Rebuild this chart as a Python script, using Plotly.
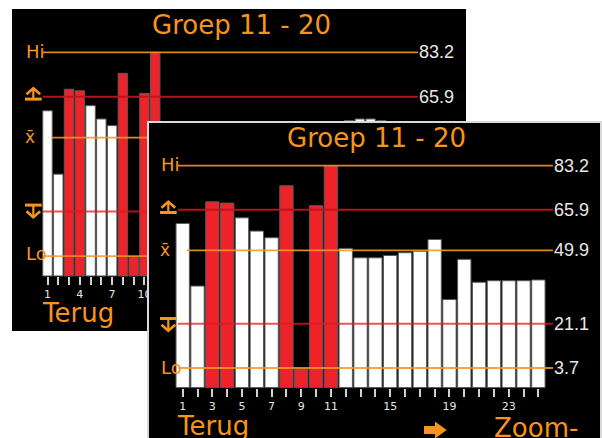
import plotly.graph_objects as go

# ---------------- data ----------------
TITLE = "Groep 11 - 20"
HI, UCL, MEAN, LCL, LO = 83.2, 65.9, 49.9, 21.1, 3.7
limit_texts = ["83.2", "65.9", "49.9", "21.1", "3.7"]
BAR_BASE = -4.0

front_samples = list(range(1, 26))
front_values = [60.5, 35.9, 69.0, 68.5, 62.7, 57.5, 54.9, 75.3, 3.3, 67.5, 83.2,
                50.7, 47.0, 47.0, 47.9, 49.0, 49.6, 54.2, 30.6, 46.4,
                37.4, 38.0, 38.0, 38.0, 38.3]
front_tick_text = ["1", "", "3", "", "5", "", "7", "", "9", "", "11", "", "", "",
                   "15", "", "", "", "19", "", "", "", "23", "", ""]

back_samples = list(range(1, 35))
back_values = [60.4, 35.7, 68.8, 68.2, 62.4, 57.2, 54.6, 75.0, 3.5, 67.2, 83.2,
               50.7, 47.0, 47.0, 47.9, 49.0, 49.6, 54.2, 30.6, 46.4,
               37.4, 38.0, 38.0, 38.0, 38.3, 45.0, 47.0, 50.0,
               56.5, 57.2, 57.2, 56.5, 52.0, 48.0]
back_tick_text = [str(n) if (n - 1) % 3 == 0 else "" for n in back_samples]

# ---------------- styling ----------------
W, H = 602, 438
ORANGE = "#f7941d"
RED_BAR = "#ee2229"
WHITE_BAR = "#ffffff"
NUM_COL = "#e8e8e8"
FONT = "DejaVu Sans"


def fx(px):
    return px / W


def fy(py):
    return 1 - py / H


def bar_colors(vals):
    return [RED_BAR if (v > UCL or v < LCL) else WHITE_BAR for v in vals]


# screen geometry (pixels): back screen and front screen (front = back shifted)
DX, DY = 135.0, 113.4
screens = {
    "back": dict(left=12, right=466, top=9, bottom=331, first=47.5, pitch=10.77,
                 hi=52.3, lo=256.2, width=0.88),
    "front": dict(left=147, right=602, top=121, bottom=438, first=182.7, pitch=14.82,
                  hi=165.7, lo=368.0, width=0.9),
}

fig = go.Figure()
layout_axes = {}
for key, ax_suffix in (("back", ""), ("front", "2")):
    s = screens[key]
    r0 = 1 + (s["left"] - s["first"]) / s["pitch"]
    r1 = 1 + (s["right"] - s["first"]) / s["pitch"]
    scale = (s["lo"] - s["hi"]) / (HI - LO)
    y_bot = LO - (s["bottom"] - s["lo"]) / scale
    y_top = HI + (s["hi"] - s["top"]) / scale
    base_px = s["lo"] + (LO - BAR_BASE) * scale
    s.update(r0=r0, r1=r1, scale=scale)

    samples = back_samples if key == "back" else front_samples
    values = back_values if key == "back" else front_values
    ticktext = back_tick_text if key == "back" else front_tick_text
    xa, ya = "x" + ax_suffix, "y" + ax_suffix

    fig.add_trace(go.Bar(
        x=samples, y=[v - BAR_BASE for v in values], base=BAR_BASE,
        width=s["width"], xaxis=xa, yaxis=ya,
        marker=dict(color=bar_colors(values), line=dict(color="#5a5a5a", width=1)),
        hoverinfo="skip"))

    def dx_(px):
        return 1 + (px - s["first"]) / s["pitch"]

    off = 0 if key == "front" else DX
    x_start = dx_(178 - off)
    x_mean_start = dx_(186.7 - off)
    x_end = dx_(553 - off)
    line_specs = [
        (HI, x_start, "rgba(236,140,25,0.95)", 1.8),
        (UCL, x_start, "rgba(190,20,30,0.95)", 2),
        (MEAN, x_mean_start, "rgba(247,150,35,0.9)", 1.8),
        (LCL, x_start, "rgba(225,25,35,0.75)", 2),
        (LO, x_start, "rgba(247,150,35,0.85)", 1.8),
    ]
    for yv, xs, col, lw in line_specs:
        fig.add_trace(go.Scatter(x=[xs, x_end], y=[yv, yv], mode="lines",
                                 xaxis=xa, yaxis=ya, hoverinfo="skip",
                                 line=dict(color=col, width=lw)))

    layout_axes["xaxis" + ax_suffix] = dict(
        domain=[fx(s["left"]), fx(s["right"])], range=[r0, r1],
        anchor="free", position=fy(base_px), showgrid=False, zeroline=False,
        showline=False, ticks="outside", ticklen=8, tickwidth=1.5,
        tickcolor="#d0d0d0", tickvals=samples, ticktext=ticktext,
        tickfont=dict(family=FONT, size=11, color="#e6e6e6"), fixedrange=True)
    layout_axes["yaxis" + ax_suffix] = dict(
        domain=[fy(s["bottom"]), fy(s["top"])], range=[y_bot, y_top],
        anchor="x" + ax_suffix, visible=False, fixedrange=True)

fig.update_layout(**layout_axes)

# front screen cover (drawn inside the front subplot, above the back subplot)
sf = screens["front"]
fig.add_shape(type="rect", xref="x2", yref="y2", layer="below",
              x0=sf["r0"] - 2, x1=sf["r1"] + 2, y0=-60, y1=140,
              fillcolor="black", line=dict(width=0))
# front border
fig.add_shape(type="rect", xref="paper", yref="paper", layer="above",
              x0=fx(148), x1=fx(601), y0=fy(446), y1=fy(122),
              fillcolor="rgba(0,0,0,0)", line=dict(color="#d9d9d9", width=2))

annotations = []


def ann(text, px, py, size, color=ORANGE, xanchor="left", family=FONT):
    annotations.append(dict(text=text, x=fx(px), y=fy(py), xref="paper", yref="paper",
                            xanchor=xanchor, yanchor="middle", showarrow=False,
                            borderpad=0, font=dict(family=family, size=size, color=color)))


def sym_paths(ox, oy, up):
    # ox, oy: left/top of symbol box (pixels)
    cx = ox + 8.3
    if up:
        chev = f"M{fx(ox+1.5)},{fy(oy+7)} L{fx(cx)},{fy(oy+1)} L{fx(ox+15.2)},{fy(oy+7)}"
        stem = f"M{fx(cx)},{fy(oy+1)} L{fx(cx)},{fy(oy+11.5)}"
        bar = f"M{fx(ox)},{fy(oy+11.8)} L{fx(ox+16.7)},{fy(oy+11.8)}"
    else:
        bar = f"M{fx(ox)},{fy(oy+1.8)} L{fx(ox+16.7)},{fy(oy+1.8)}"
        stem = f"M{fx(cx)},{fy(oy+1.8)} L{fx(cx)},{fy(oy+14)}"
        chev = f"M{fx(ox+1.5)},{fy(oy+8)} L{fx(cx)},{fy(oy+14)} L{fx(ox+15.2)},{fy(oy+8)}"
    out = []
    for p, w in ((chev, 2.6), (stem, 2.2), (bar, 3)):
        out.append(dict(type="path", path=p, xref="paper", yref="paper", layer="above",
                        line=dict(color=ORANGE, width=w)))
    return out


for key in ("back", "front"):
    off_x = 0 if key == "front" else -DX
    off_y = 0 if key == "front" else -DY
    s = screens[key]
    ann(TITLE, 376 + off_x, 138 + off_y, 26, xanchor="center")
    ann("Hi", 160 + off_x, 165 + off_y, 18)
    ann("Lo", 160 + off_x, 367.3 + off_y, 18)
    ann("x\u0304", 165 + off_x, 250 + off_y, 17, xanchor="center")
    ann("Terug", 175.7 + off_x, 426.2 + off_y, 26)
    for shp in sym_paths(160 + off_x, 200.7 + off_y, True) + sym_paths(160 + off_x, 316.7 + off_y, False):
        fig.add_shape(**shp)
    lims = [HI, UCL, MEAN, LCL, LO]
    n_show = 5 if key == "front" else 2
    for val, txt in list(zip(lims, limit_texts))[:n_show]:
        py = s["lo"] - (val - LO) * s["scale"]
        ann(txt, 553 + off_x, py, 18, color=NUM_COL, family="Liberation Sans")

ann("Zoom-", 493.3, 427.8, 26)
fig.add_shape(type="path", xref="paper", yref="paper", layer="above",
              path=(f"M{fx(424)},{fy(426)} L{fx(435)},{fy(426)} L{fx(435)},{fy(421.5)} "
                    f"L{fx(446.7)},{fy(430)} L{fx(435)},{fy(438.5)} L{fx(435)},{fy(434)} "
                    f"L{fx(424)},{fy(434)} Z"),
              fillcolor=ORANGE, line=dict(width=0))

fig.update_layout(width=W, height=H, margin=dict(l=0, r=0, t=0, b=0),
                  paper_bgcolor="white", plot_bgcolor="black", showlegend=False,
                  annotations=annotations, barmode="overlay")

fig.write_html("out.html", config={"displayModeBar": False},
               post_script="document.body.style.margin='0';document.body.style.padding='0';")
